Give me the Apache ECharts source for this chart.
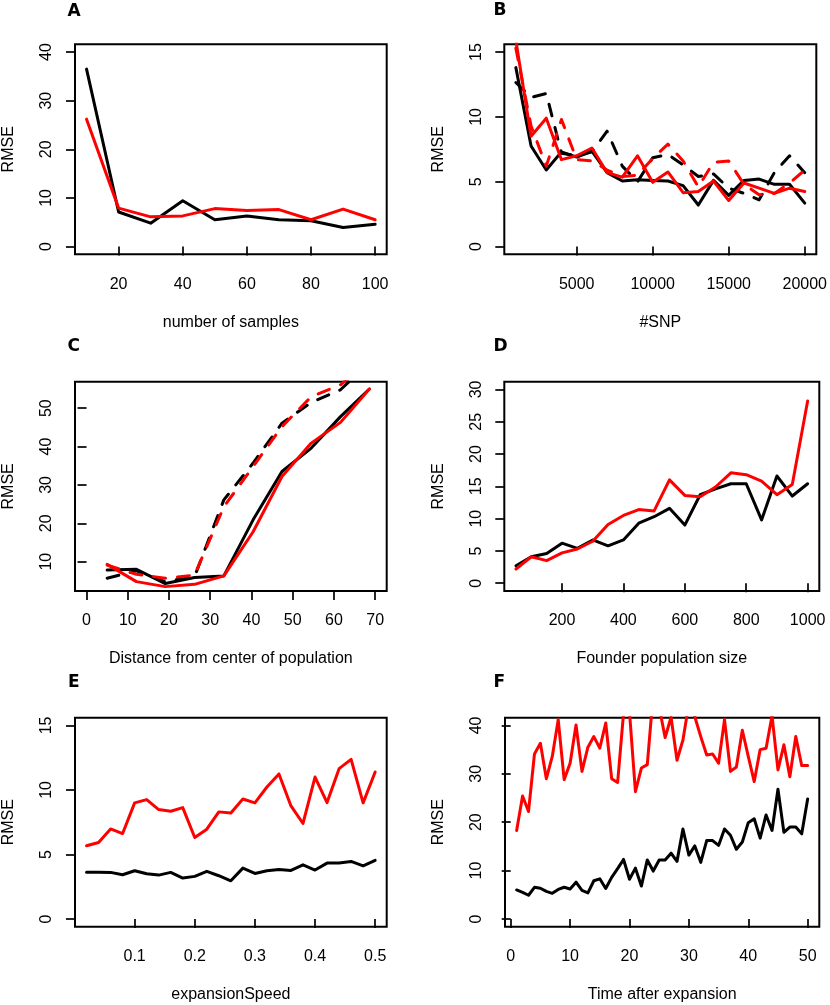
<!DOCTYPE html>
<html>
<head>
<meta charset="utf-8">
<script src="https://cdn.jsdelivr.net/npm/echarts@6/dist/echarts.min.js"></script>
<style>
  html, body { margin: 0; padding: 0; background: #fff; }
  #chart { width: 830px; height: 1005px; }
</style>
</head>
<body>
<div id="chart"></div>
<script>
// ---------- A: number of samples ----------
const samplesX = [10, 20, 30, 40, 50, 60, 70, 80, 90, 100];
const samplesBlack = [36.5, 7.1, 4.8, 9.4, 5.5, 6.3, 5.5, 5.3, 3.9, 4.6];
const samplesRed = [26.2, 7.9, 6.1, 6.3, 7.8, 7.4, 7.6, 5.5, 7.7, 5.5];
const samplesTicksX = [20, 40, 60, 80, 100];
const samplesTicksY = [0, 10, 20, 30, 40];

// ---------- B: #SNP ----------
const snpX = [1000, 2000, 3000, 4000, 5000, 6000, 7000, 8000, 9000, 10000,
  11000, 12000, 13000, 14000, 15000, 16000, 17000, 18000, 19000, 20000];
const snpBlack = [13.8, 7.75, 5.9, 7.3, 6.9, 7.35, 5.7, 5.05, 5.15, 5.1, 5.05, 4.7, 3.2, 5.1, 3.95, 5.1, 5.2, 4.8, 4.8, 3.35];
const snpBlackDash = [12.65, 11.5, 11.8, 7.2, 7.0, 7.3, 8.9, 6.2, 5.0, 6.85, 7.1, 6.3, 5.4, 5.6, 4.5, 4.1, 3.6, 5.7, 7.0, 5.7];
const snpRed = [15.9, 8.5, 9.9, 6.7, 7.0, 7.6, 5.7, 5.35, 7.0, 4.95, 5.75, 4.15, 4.25, 5.05, 3.55, 4.9, 4.5, 4.1, 4.5, 4.25];
const snpRedDash = [15.3, 9.3, 6.2, 9.8, 6.7, 6.6, 5.9, 5.4, 5.5, 6.8, 7.9, 6.6, 4.6, 6.5, 6.6, 4.8, 4.0, 4.1, 4.9, 5.9];
const snpTicksX = [5000, 10000, 15000, 20000];
const snpTicksY = [0, 5, 10, 15];

// ---------- C: distance from center ----------
const distX = [5, 12.1, 19.1, 26.2, 33.3, 40.4, 47.4, 54.5, 61.6, 68.6];
const distBlack = [7.8, 8.0, 4.3, 5.9, 6.3, 20.9, 33.5, 39.6, 47.8, 55.0];
const distBlackDash = [5.7, 7.6, 4.8, 6.1, 26.1, 35.7, 46.1, 51.5, 54.8, 62.0];
const distRed = [9.3, 4.8, 3.5, 4.1, 6.3, 17.8, 32.2, 40.9, 46.3, 55.0];
const distRedDash = [9.1, 6.7, 5.7, 6.5, 24.3, 34.8, 45.2, 53.0, 56.1, 62.5];
const distTicksX = [0, 10, 20, 30, 40, 50, 60, 70];
const distTicksY = [10, 20, 30, 40, 50];

// ---------- D: founder population size ----------
const founderX = [50, 100, 150, 200, 250, 300, 350, 400, 450, 500,
  550, 600, 650, 700, 750, 800, 850, 900, 950, 1000];
const founderBlack = [2.7, 4.1, 4.6, 6.2, 5.4, 6.7, 5.8, 6.7, 9.3, 10.3, 11.6, 9.0, 13.7, 14.6, 15.4, 15.4, 9.8, 16.6, 13.5, 15.4];
const founderRed = [2.2, 4.1, 3.5, 4.7, 5.3, 6.5, 9.1, 10.5, 11.4, 11.2, 16.0, 13.6, 13.4, 14.9, 17.1, 16.8, 15.8, 13.7, 15.3, 28.2];
const founderTicksX = [200, 400, 600, 800, 1000];
const founderTicksY = [0, 5, 10, 15, 20, 25, 30];

// ---------- E: expansionSpeed ----------
const speedX = [0.02, 0.04, 0.06, 0.08, 0.1, 0.12, 0.14, 0.16, 0.18, 0.2, 0.22, 0.24, 0.26,
  0.28, 0.3, 0.32, 0.34, 0.36, 0.38, 0.4, 0.42, 0.44, 0.46, 0.48, 0.5];
const speedBlack = [3.63, 3.63, 3.61, 3.43, 3.74, 3.5, 3.4, 3.61, 3.17, 3.3, 3.69, 3.35, 2.96,
  3.94, 3.53, 3.74, 3.84, 3.76, 4.2, 3.79, 4.33, 4.33, 4.46, 4.12, 4.54];
const speedRed = [5.67, 5.93, 6.98, 6.62, 9.0, 9.25, 8.48, 8.35, 8.63, 6.31, 6.96, 8.3, 8.22,
  9.3, 9.0, 10.23, 11.24, 8.76, 7.4, 11.0, 9.02, 11.65, 12.37, 9.0, 11.39];
const speedTicksX = [0.1, 0.2, 0.3, 0.4, 0.5];
const speedTicksY = [0, 5, 10, 15];

// ---------- F: time after expansion ----------
const timeX = [1, 2, 3, 4, 5, 6, 7, 8, 9, 10, 11, 12, 13, 14, 15, 16, 17, 18, 19, 20, 21, 22, 23, 24, 25,
  26, 27, 28, 29, 30, 31, 32, 33, 34, 35, 36, 37, 38, 39, 40, 41, 42, 43, 44, 45, 46, 47, 48, 49, 50];
const timeBlack = [6.0, 5.5, 4.9, 6.55, 6.35, 5.7, 5.3, 6.1, 6.55, 6.2, 7.6, 5.9, 5.4, 7.9, 8.3, 6.3, 8.6,
  10.4, 12.3, 8.2, 10.5, 6.8, 12.2, 9.9, 12.2, 12.2, 13.6, 11.9, 18.6, 13.2, 15.1, 11.7, 16.2, 16.2,
  15.2, 18.6, 17.3, 14.4, 15.9, 19.9, 20.7, 16.7, 21.5, 18.3, 26.8, 17.9, 19.0, 19.0, 17.6, 24.8];
const timeRed = [18.3, 25.4, 22.2, 34.1, 36.3, 29.0, 33.6, 41.2, 28.8, 32.2, 40.1, 30.5, 35.5, 37.7,
  35.3, 40.5, 29.0, 28.2, 42.5, 42.8, 26.3, 31.2, 31.9, 46.6, 43.8, 37.5, 41.7, 32.8, 37.0, 44.5,
  41.8, 37.7, 33.9, 34.1, 32.2, 41.2, 30.5, 31.4, 39.0, 33.6, 28.4, 35.0, 35.3, 42.0, 30.8, 36.0,
  29.4, 37.7, 31.7, 31.7];
const timeTicksX = [0, 10, 20, 30, 40, 50];
const timeTicksY = [0, 10, 20, 30, 40];

const FONT = '"Liberation Sans", Arial, Helvetica, sans-serif';
const LETTER_FONT = '"DejaVu Sans", "Liberation Sans", sans-serif';
const BLACK = '#000000';
const RED = '#ff0000';

function zip(xs, ys) {
  return xs.map((x, i) => [x, ys[i]]);
}

const panels = [
  {
    letter: 'A', lx: 67.5, ly: 11.5,
    grid: {left: 72.7, top: 44.3, width: 314, height: 210},
    xr: [6.4, 103.6], yr: [-1.6, 41.6], xt: samplesTicksX, yt: samplesTicksY,
    xname: 'number of samples',
    lines: [[samplesX, samplesBlack, BLACK, false], [samplesX, samplesRed, RED, false]]
  },
  {
    letter: 'B', lx: 493.5, ly: 11,
    grid: {left: 504.3, top: 44.3, width: 315, height: 210},
    xr: [240, 20760], yr: [-0.6, 15.6], xt: snpTicksX, yt: snpTicksY,
    xname: '#SNP',
    lines: [[snpX, snpBlack, BLACK, false], [snpX, snpBlackDash, BLACK, true],
      [snpX, snpRed, RED, false], [snpX, snpRedDash, RED, true]]
  },
  {
    letter: 'C', lx: 67.5, ly: 347,
    grid: {left: 72.7, top: 381.7, width: 314, height: 209.3},
    xr: [-2.8, 72.8], yr: [2.36, 56.9], xt: distTicksX, yt: distTicksY,
    xname: 'Distance from center of population',
    lines: [[distX, distBlack, BLACK, false], [distX, distBlackDash, BLACK, true],
      [distX, distRed, RED, false], [distX, distRedDash, RED, true]]
  },
  {
    letter: 'D', lx: 493.5, ly: 346.5,
    grid: {left: 504.3, top: 381.7, width: 315, height: 209.3},
    xr: [12, 1038], yr: [-1.2, 31.2], xt: founderTicksX, yt: founderTicksY,
    xname: 'Founder population size',
    lines: [[founderX, founderBlack, BLACK, false], [founderX, founderRed, RED, false]]
  },
  {
    letter: 'E', lx: 68, ly: 683,
    grid: {left: 72.7, top: 717.7, width: 314, height: 209},
    xr: [0.0008, 0.5192], yr: [-0.6, 15.6], xt: speedTicksX, yt: speedTicksY,
    xname: 'expansionSpeed',
    lines: [[speedX, speedBlack, BLACK, false], [speedX, speedRed, RED, false]]
  },
  {
    letter: 'F', lx: 493.5, ly: 683,
    grid: {left: 505, top: 717.7, width: 314.3, height: 209},
    xr: [-0.96, 51.96], yr: [-1.6, 41.6], xt: timeTicksX, yt: timeTicksY,
    xname: 'Time after expansion',
    lines: [[timeX, timeBlack, BLACK, false], [timeX, timeRed, RED, false]]
  }
];

const option = {
  animation: false,
  backgroundColor: '#ffffff',
  grid: [], xAxis: [], yAxis: [], series: [], graphic: []
};

const labelStyle = {color: '#000', fontFamily: FONT, fontSize: 16};
const tickStyle = {show: true, length: 9, lineStyle: {color: '#000', width: 1.7}};

panels.forEach((p, i) => {
  option.grid.push(Object.assign({
    show: true, borderColor: '#000', borderWidth: 2, backgroundColor: 'transparent'
  }, p.grid));
  option.xAxis.push({
    type: 'value', gridIndex: i, min: p.xr[0], max: p.xr[1],
    name: p.xname, nameLocation: 'middle', nameGap: 60,
    nameTextStyle: labelStyle,
    axisLine: {show: false},
    axisTick: Object.assign({customValues: p.xt}, tickStyle),
    axisLabel: Object.assign({customValues: p.xt, margin: 22, formatter: v => String(v)}, labelStyle),
    splitLine: {show: false}
  });
  option.yAxis.push({
    type: 'value', gridIndex: i, min: p.yr[0], max: p.yr[1],
    name: 'RMSE', nameLocation: 'middle', nameGap: 58,
    nameTextStyle: labelStyle,
    axisLine: {show: false},
    axisTick: Object.assign({customValues: p.yt}, tickStyle),
    axisLabel: Object.assign({customValues: p.yt, margin: 20, rotate: 90, formatter: v => String(v)}, labelStyle),
    splitLine: {show: false}
  });
  p.lines.forEach(l => {
    option.series.push({
      type: 'line', xAxisIndex: i, yAxisIndex: i,
      data: zip(l[0], l[1]),
      symbol: 'none', clip: true, silent: true,
      lineStyle: {color: l[2], width: 3, type: l[3] ? [12, 12] : 'solid', cap: 'round', join: 'round'}
    });
  });
  option.graphic.push({
    type: 'text', x: p.lx, y: p.ly,
    style: {text: p.letter, fill: '#000', fontFamily: LETTER_FONT, fontSize: 17, fontWeight: 'bold', verticalAlign: 'middle'}
  });
});

const chart = echarts.init(document.getElementById('chart'), null, {renderer: 'canvas'});
chart.setOption(option);
</script>
</body>
</html>
